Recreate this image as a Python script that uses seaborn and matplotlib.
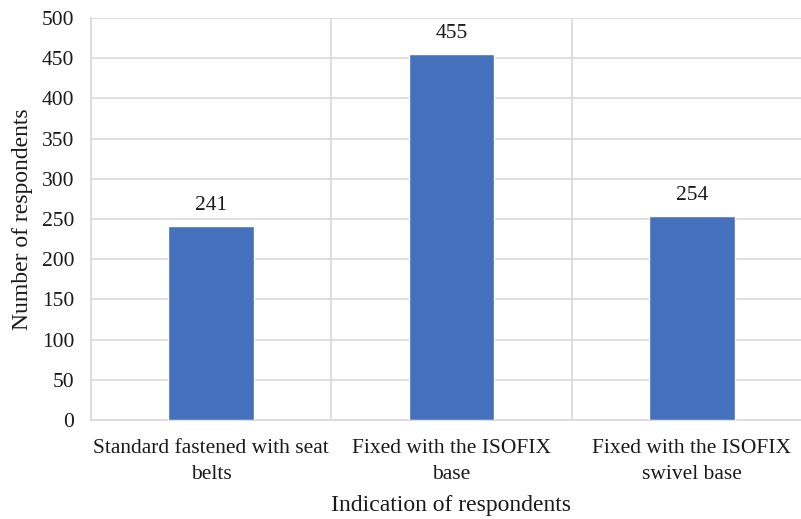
import matplotlib
matplotlib.use("Agg")
import matplotlib.pyplot as plt
import seaborn as sns
import pandas as pd
from matplotlib.ticker import FixedLocator

categories = [
    "Standard fastened with seat\nbelts",
    "Fixed with the ISOFIX\nbase",
    "Fixed with the ISOFIX\nswivel base",
]
respondents = [241, 455, 254]
y_ticks = [0, 50, 100, 150, 200, 250, 300, 350, 400, 450, 500]

df = pd.DataFrame({"category": categories, "count": respondents})

sns.set_theme(style="white")
plt.rcParams["font.family"] = ["Liberation Serif", "DejaVu Serif"]

fig = plt.figure(figsize=(8.01, 5.19), dpi=100)
ax = fig.add_axes([0.1136, 0.1908, 0.900, 0.7746])

sns.barplot(data=df, x="category", y="count", color="#4571BC",
            width=0.357, saturation=1, ax=ax, zorder=3)

ax.set_xlim(-0.5, 2.5)
ax.set_ylim(0, 500)
ax.set_yticks(y_ticks)
ax.set_yticklabels([str(t) for t in y_ticks])

grid_color = "#d9d9d9"
ax.xaxis.set_minor_locator(FixedLocator([-0.5, 0.5, 1.5, 2.5]))
ax.grid(axis="y", which="major", color=grid_color, linewidth=1.2, zorder=0)
ax.grid(axis="x", which="minor", color=grid_color, linewidth=1.2, zorder=0)
ax.grid(axis="x", which="major", visible=False)
for side in ["top", "right"]:
    ax.spines[side].set_visible(False)
for side in ["left", "bottom"]:
    ax.spines[side].set_color(grid_color)
    ax.spines[side].set_linewidth(1.2)

text_color = "#1a1a1a"
ax.tick_params(axis="both", which="both", length=0, labelsize=15.5,
               colors=text_color)
ax.tick_params(axis="y", pad=12)
ax.tick_params(axis="x", pad=14)
for lbl in ax.get_xticklabels():
    lbl.set_linespacing(1.45)

for p, v in zip(ax.patches, respondents):
    ax.annotate(str(v), (p.get_x() + p.get_width() / 2, v),
                xytext=(0, 8), textcoords="offset points",
                ha="center", va="bottom", fontsize=15.5, color=text_color)

ax.set_xlabel("Indication of respondents", fontsize=17, color=text_color,
              labelpad=8)
ax.set_ylabel("Number of respondents", fontsize=17, color=text_color,
              labelpad=6)

fig.savefig("out.png", dpi=100)
